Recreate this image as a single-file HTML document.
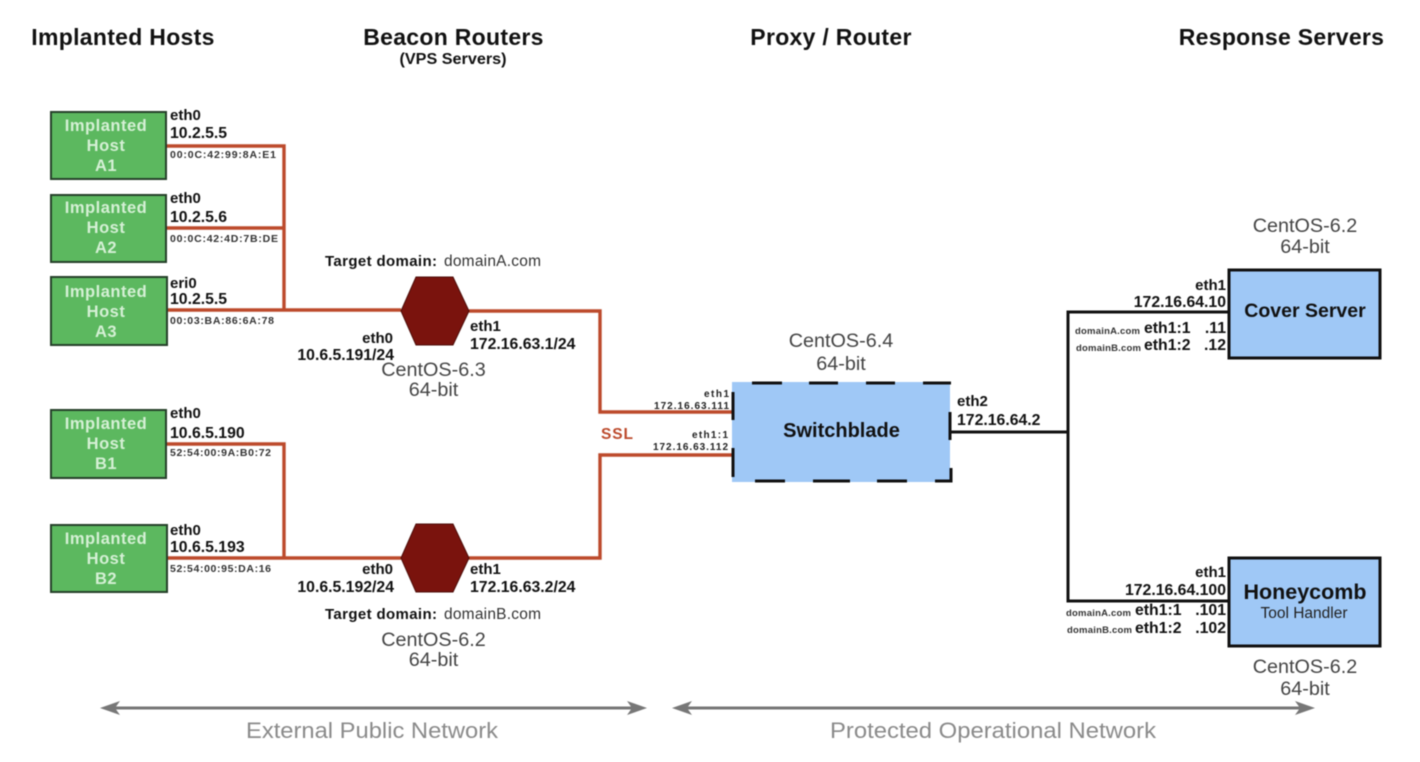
<!DOCTYPE html>
<html><head><meta charset="utf-8"><style>
html,body{margin:0;padding:0;background:#fff;width:1420px;height:762px;overflow:hidden}
svg{display:block;filter:blur(.5px)}
text{font-family:"Liberation Sans",sans-serif;fill:#111}
.h{font-size:23px;font-weight:bold;text-anchor:middle;letter-spacing:.3px}
.w{font-size:16.5px;font-weight:bold;fill:#d5f0d5;text-anchor:middle;letter-spacing:.5px}
.b{font-size:15.8px;font-weight:bold}
.e{font-size:15px;font-weight:bold}
.m{font-size:10.5px;font-weight:bold;fill:#333}
.g{font-size:19.8px;fill:#444;text-anchor:middle}
.n{font-size:22px;fill:#8a8a8a;text-anchor:middle}
.r{text-anchor:end}
.d{font-size:9.5px;font-weight:bold;fill:#333}
.s{font-size:10px;font-weight:bold;fill:#222}
.t{font-size:15px;font-weight:bold}
.u{font-size:15.5px;fill:#333}
</style></head><body>
<svg width="1420" height="762" viewBox="0 0 1420 762" xmlns="http://www.w3.org/2000/svg">
<text class="h" x="123" y="45">Implanted Hosts</text>
<text class="h" x="453.5" y="45">Beacon Routers</text>
<text x="453" y="64" text-anchor="middle" style="font-size:15.5px;font-weight:bold" textLength="107" lengthAdjust="spacingAndGlyphs">(VPS Servers)</text>
<text class="h" x="831" y="45">Proxy / Router</text>
<text class="h" x="1281.5" y="45">Response Servers</text>

<g fill="none" stroke="#bc4a2c" stroke-width="3.4">
<path d="M166 146H284V310M166 228H284M166 310H401"/>
<path d="M469 311H600V412H732"/>
<path d="M166 444H284V558M166 558H401"/>
<path d="M469 558H600V455H732"/>
</g>
<g fill="none" stroke="#111" stroke-width="3">
<path d="M950 432H1068M1229 312H1068V601H1229"/>
</g>

<g fill="#5cb85f" stroke="#26402a" stroke-width="2">
<rect x="51" y="112" width="115" height="67"/>
<rect x="51" y="195" width="115" height="67"/>
<rect x="51" y="277" width="116" height="68"/>
<rect x="51" y="410" width="115" height="68"/>
<rect x="51" y="525" width="116" height="67"/>
</g>
<text class="w" x="106" y="131">Implanted</text><text class="w" x="106" y="151">Host</text><text class="w" x="106" y="171">A1</text>
<text class="w" x="106" y="213">Implanted</text><text class="w" x="106" y="233">Host</text><text class="w" x="106" y="253">A2</text>
<text class="w" x="106" y="297">Implanted</text><text class="w" x="106" y="317">Host</text><text class="w" x="106" y="337">A3</text>
<text class="w" x="106" y="429">Implanted</text><text class="w" x="106" y="449">Host</text><text class="w" x="106" y="469">B1</text>
<text class="w" x="106" y="544">Implanted</text><text class="w" x="106" y="564">Host</text><text class="w" x="106" y="584">B2</text>

<text class="e" x="170" y="120">eth0</text><text class="b" x="170" y="138">10.2.5.5</text><text class="m" x="170" y="158" textLength="106">00:0C:42:99:8A:E1</text>
<text class="e" x="170" y="203">eth0</text><text class="b" x="170" y="222">10.2.5.6</text><text class="m" x="170" y="242" textLength="108">00:0C:42:4D:7B:DE</text>
<text class="e" x="170" y="288">eri0</text><text class="b" x="170" y="304">10.2.5.5</text><text class="m" x="170" y="324" textLength="104">00:03:BA:86:6A:78</text>
<text class="e" x="170" y="418">eth0</text><text class="b" x="170" y="438">10.6.5.190</text><text class="m" x="170" y="456" textLength="101">52:54:00:9A:B0:72</text>
<text class="e" x="170" y="535">eth0</text><text class="b" x="170" y="552">10.6.5.193</text><text class="m" x="170" y="572" textLength="101">52:54:00:95:DA:16</text>

<polygon points="401,311 416,277 453,277 469,311 453,345 416,345" fill="#7a130d" stroke="#4d0d09" stroke-width="1"/>
<polygon points="401,558 416,524 453,524 469,558 453,592 416,592" fill="#7a130d" stroke="#4d0d09" stroke-width="1"/>

<text class="t" x="325" y="266" textLength="112">Target domain:</text><text class="u" x="444" y="266" textLength="97">domainA.com</text>
<text class="t" x="325" y="619" textLength="112">Target domain:</text><text class="u" x="444" y="619" textLength="97">domainB.com</text>

<text class="e r" x="393" y="343">eth0</text><text class="b r" x="394" y="360">10.6.5.191/24</text>
<text class="e" x="470" y="331">eth1</text><text class="b" x="470" y="349">172.16.63.1/24</text>
<text class="g" x="433.5" y="376">CentOS-6.3</text><text class="g" x="433.5" y="396">64-bit</text>

<text class="e r" x="393" y="574">eth0</text><text class="b r" x="394" y="592">10.6.5.192/24</text>
<text class="e" x="470" y="574">eth1</text><text class="b" x="470" y="592">172.16.63.2/24</text>
<text class="g" x="433.5" y="646">CentOS-6.2</text><text class="g" x="433.5" y="666">64-bit</text>

<text x="601" y="439" style="font-size:15.5px;font-weight:bold;fill:#bc4a2c" textLength="32">SSL</text>
<text class="s" x="704" y="397" textLength="25">eth1</text><text class="s" x="654" y="409" textLength="75">172.16.63.111</text>
<text class="s" x="692" y="438" textLength="36">eth1:1</text><text class="s" x="653" y="450" textLength="75">172.16.63.112</text>

<rect x="732" y="382" width="218" height="100" fill="#9fc8f6"/>
<g fill="none" stroke="#111" stroke-width="3">
<path d="M752 383H782M809 383H838M866 383H895M923 383H951"/>
<path d="M755 481H785M813 481H850M877 481H907M935 481H951V468"/>
<path d="M733 392V420M733 448V477"/>
<path d="M950 412V440"/>
</g>
<text x="841.5" y="437" text-anchor="middle" style="font-size:20px;font-weight:bold">Switchblade</text>
<text class="g" x="841" y="347">CentOS-6.4</text><text class="g" x="841" y="370">64-bit</text>
<text class="e" x="957" y="406">eth2</text><text class="b" x="957" y="425">172.16.64.2</text>

<rect x="1229" y="270" width="151" height="88" fill="#9fc8f6" stroke="#111" stroke-width="3"/>
<rect x="1229" y="558" width="151" height="88" fill="#9fc8f6" stroke="#111" stroke-width="3"/>
<text x="1305" y="317" text-anchor="middle" style="font-size:19.5px;font-weight:bold">Cover Server</text>
<text x="1305" y="599" text-anchor="middle" style="font-size:21.5px;font-weight:bold">Honeycomb</text>
<text x="1304" y="618" text-anchor="middle" style="font-size:15.5px;fill:#222">Tool Handler</text>
<text class="g" x="1305" y="232">CentOS-6.2</text><text class="g" x="1305" y="253">64-bit</text>
<text class="g" x="1305" y="673">CentOS-6.2</text><text class="g" x="1305" y="695">64-bit</text>

<text class="e r" x="1226" y="290">eth1</text><text class="b r" x="1226" y="307">172.16.64.10</text>
<text class="d" x="1075" y="334" textLength="65">domainA.com</text><text class="b" x="1144" y="333">eth1:1</text><text class="b r" x="1226" y="333">.11</text>
<text class="d" x="1076" y="351" textLength="65">domainB.com</text><text class="b" x="1144" y="350">eth1:2</text><text class="b r" x="1226" y="350">.12</text>

<text class="e r" x="1226" y="577">eth1</text><text class="b r" x="1226" y="595">172.16.64.100</text>
<text class="d" x="1066" y="616" textLength="65">domainA.com</text><text class="b" x="1135" y="615">eth1:1</text><text class="b r" x="1226" y="615">.101</text>
<text class="d" x="1067" y="633" textLength="65">domainB.com</text><text class="b" x="1135" y="633">eth1:2</text><text class="b r" x="1226" y="633">.102</text>

<g fill="none" stroke="#777" stroke-width="3">
<path d="M108 708H640"/>
<path d="M680 708H1306"/>
</g>
<g fill="#777">
<polygon points="100,708 120,701 115,708 120,715"/>
<polygon points="647,708 627,701 632,708 627,715"/>
<polygon points="672,708 692,701 687,708 692,715"/>
<polygon points="1315,708 1295,701 1300,708 1295,715"/>
</g>
<text class="n" x="372" y="738" textLength="252" lengthAdjust="spacingAndGlyphs">External Public Network</text>
<text class="n" x="993" y="738" textLength="326" lengthAdjust="spacingAndGlyphs">Protected Operational Network</text>
</svg>
</body></html>
